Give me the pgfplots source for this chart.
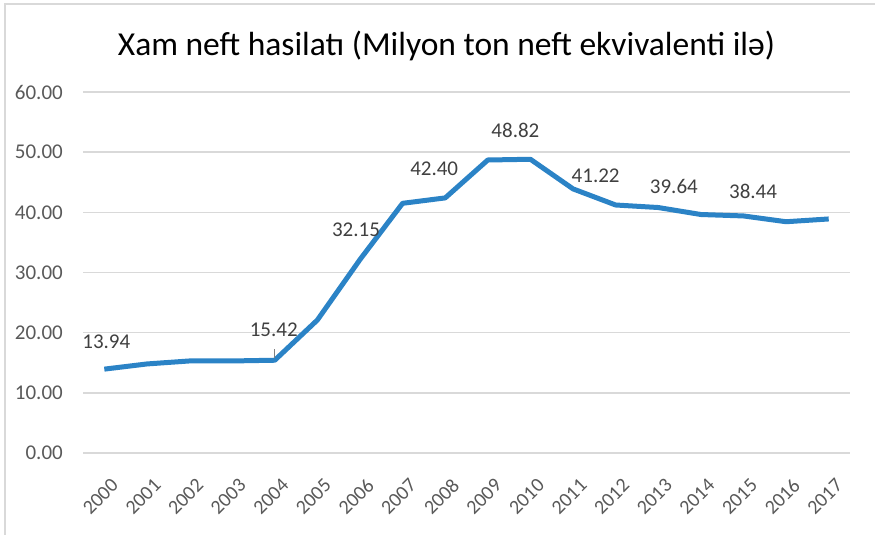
\documentclass[border=0pt]{standalone}
\usepackage{pgfplots}
\pgfplotsset{compat=1.18}
\usepackage{fontspec}
\setmainfont{Carlito}

\definecolor{lineblue}{RGB}{43,131,198}
\definecolor{gridgray}{RGB}{217,217,217}
\definecolor{ticktext}{RGB}{89,89,89}
\definecolor{labeltext}{RGB}{64,64,64}

\begin{document}
\begin{tikzpicture}[x=1pt,y=1pt]
\useasboundingbox (0,0) rectangle (875,-535);
\draw[gridgray, line width=2pt] (5,-535) -- (5,-4) -- (875,-4);
\node[font=\fontsize{33.5}{40}\selectfont, anchor=center] at (446.5,-46)
  {Xam neft hasilatı (Milyon ton neft ekvivalenti ilə)};
\begin{axis}[
    at={(83pt,-453pt)}, anchor=south west,
    scale only axis,
    width=767pt, height=361pt,
    xmin=-0.5, xmax=17.5,
    ymin=0, ymax=60,
    ytick={0,10,20,30,40,50,60},
    xtick={0,1,...,17},
    xticklabels={2000,2001,2002,2003,2004,2005,2006,2007,2008,2009,2010,2011,2012,2013,2014,2015,2016,2017},
    axis line style={draw=none},
    major tick length=0pt,
    ymajorgrids,
    grid style={gridgray, line width=1.5pt},
    tick label style={font=\fontsize{21}{25}\selectfont, text=ticktext},
    yticklabel style={inner sep=0pt, xshift=-20pt,
        /pgf/number format/.cd, fixed, fixed zerofill, precision=2, assume math mode=true},
    xticklabel style={font=\fontsize{20}{24}\selectfont, rotate=45, anchor=east, inner sep=0pt, xshift=-13pt, yshift=-28pt},
    clip=false,
]
\addplot[lineblue, line width=5pt, line join=round, mark=none] coordinates {
    (0,13.94) (1,14.80) (2,15.30) (3,15.30) (4,15.42) (5,22.10)
    (6,32.15) (7,41.50) (8,42.40) (9,48.70) (10,48.82) (11,43.90)
    (12,41.22) (13,40.80) (14,39.64) (15,39.40) (16,38.44) (17,38.90)
};
\draw[gray, line width=1pt] (axis cs:4,15.42) ++(0pt,2pt) -- ++(0pt,9pt);
\begin{scope}[every node/.style={font=\fontsize{21}{25}\selectfont, text=labeltext}]
\node at ([shift={(2pt,27pt)}]axis cs:0,13.94) {13.94};
\node at ([shift={(-1pt,30pt)}]axis cs:4,15.42) {15.42};
\node at ([shift={(-4pt,30pt)}]axis cs:6,32.15) {32.15};
\node at ([shift={(-11pt,29pt)}]axis cs:8,42.40) {42.40};
\node at ([shift={(-15pt,29pt)}]axis cs:10,48.82) {48.82};
\node at ([shift={(-20pt,29pt)}]axis cs:12,41.22) {41.22};
\node at ([shift={(-27pt,28pt)}]axis cs:14,39.64) {39.64};
\node at ([shift={(-33pt,30pt)}]axis cs:16,38.44) {38.44};
\end{scope}
\end{axis}
\end{tikzpicture}
\end{document}
